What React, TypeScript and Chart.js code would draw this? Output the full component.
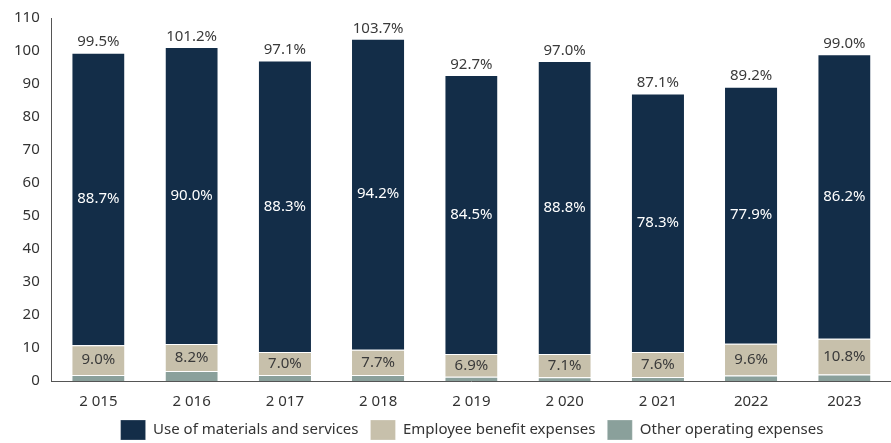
import React, { useEffect, useRef } from "react";
import { Chart, registerables } from "chart.js";
Chart.register(...registerables);

const categories = ["2 015", "2 016", "2 017", "2 018", "2 019", "2 020", "2 021", "2022", "2023"];
const materials = [88.7, 90.0, 88.3, 94.2, 84.5, 88.8, 78.3, 77.9, 86.2];
const employee = [9.0, 8.2, 7.0, 7.7, 6.9, 7.1, 7.6, 9.6, 10.8];
const other = [1.8, 3.0, 1.8, 1.8, 1.3, 1.1, 1.2, 1.7, 2.0];
const totals = [99.5, 101.2, 97.1, 103.7, 92.7, 97.0, 87.1, 89.2, 99.0];
const yTicks = [0, 10, 20, 30, 40, 50, 60, 70, 80, 90, 100, 110];

const FONT = "'Noto Sans', sans-serif";

const labelPlugin = {
  id: "barLabels",
  afterInit(chart: any) {
    const lg = chart.legend;
    if (lg && !lg.__patched) {
      const f = lg.fit;
      lg.fit = function () {
        f.call(this);
        this.__fullHeight = this.height;
        this.height = Math.max(0, this.height - 25);
      };
      lg.__patched = true;
    }
  },
  afterLayout(chart: any) {
    const lg = chart.legend;
    if (lg) {
      lg.left += 45;
      lg.top -= 15;
      lg.height = lg.__fullHeight || 42;
      lg.bottom = lg.top + lg.height;
    }
  },
  afterDatasetsDraw(chart: any) {
    const ctx = chart.ctx;
    ctx.save();
    ctx.font = `15px ${FONT}`;
    ctx.textAlign = "center";
    ctx.textBaseline = "middle";
    const empMeta = chart.getDatasetMeta(1);
    const matMeta = chart.getDatasetMeta(2);
    categories.forEach((_, i) => {
      const eb = empMeta.data[i];
      ctx.fillStyle = "#3a3a3a";
      ctx.fillText(employee[i].toFixed(1) + "%", eb.x, (eb.y + eb.base) / 2);
      const mb = matMeta.data[i];
      ctx.fillStyle = "#ffffff";
      ctx.fillText(materials[i].toFixed(1) + "%", mb.x, (mb.y + mb.base) / 2);
      ctx.fillStyle = "#3a3a3a";
      ctx.textBaseline = "bottom";
      ctx.fillText(totals[i].toFixed(1) + "%", mb.x, chart.scales.y.getPixelForValue(totals[i]) - 3);
      ctx.textBaseline = "middle";
    });
    ctx.restore();
  },
};

export default function App() {
  const ref = useRef<HTMLCanvasElement>(null);
  useEffect(() => {
    const chart = new Chart(ref.current!, {
      type: "bar",
      data: {
        labels: categories,
        datasets: [
          { label: "Other operating expenses", data: other, backgroundColor: "#8aa09b" },
          { label: "Employee benefit expenses", data: employee, backgroundColor: "#c7c0ab" },
          { label: "Use of materials and services", data: materials, backgroundColor: "#132d48" },
        ].map((d) => ({ ...d, barPercentage: 0.56, categoryPercentage: 1, borderWidth: { top: 1 } as any, borderColor: "#ffffff" })),
      },
      options: {
        animation: false,
        responsive: false,
        maintainAspectRatio: false,
        layout: { padding: { left: 8, right: 0, top: 18, bottom: 3 } },
        plugins: {
          legend: {
            position: "bottom",
            reverse: true,
            labels: {
              font: { family: FONT, size: 15 },
              color: "#333333",
              boxWidth: 25,
              boxHeight: 20,
              padding: 12,
            },
          },
          tooltip: { enabled: false },
        },
        scales: {
          x: {
            stacked: true,
            grid: { display: false, drawTicks: false },
            border: { display: true, color: "#555555" },
            ticks: { font: { family: FONT, size: 15 }, color: "#333333", padding: 12 },
          },
          y: {
            stacked: true,
            min: 0,
            max: 110,
            afterBuildTicks: (axis: any) => {
              axis.ticks = yTicks.map((v) => ({ value: v }));
            },
            grid: { display: false, drawTicks: true, tickLength: 6, tickColor: "#555555" },
            border: { display: true, color: "#555555" },
            ticks: { font: { family: FONT, size: 15 }, color: "#333333", padding: 6 },
          },
        },
      },
      plugins: [labelPlugin],
    });
    return () => chart.destroy();
  }, []);
  return (
    <div style={{ position: "absolute", left: 0, top: 0, width: 891, height: 443, background: "#fff" }}>
      <canvas ref={ref} width={891} height={443} />
    </div>
  );
}
